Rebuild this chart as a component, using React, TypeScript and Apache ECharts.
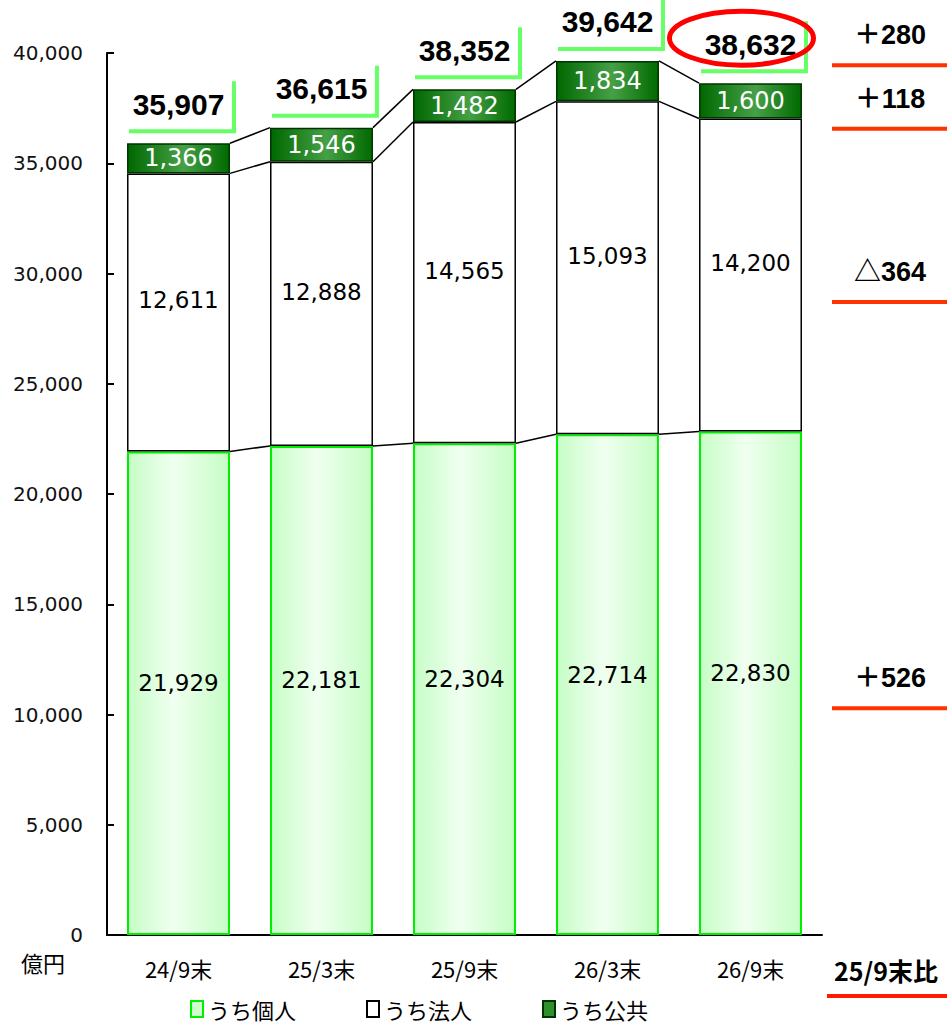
import React, { useEffect, useRef } from "react";
import * as echarts from "echarts";

const categories = ["24/9末", "25/3末", "25/9末", "26/3末", "26/9末"];
const kojin = [21929, 22181, 22304, 22714, 22830];
const hojin = [12611, 12888, 14565, 15093, 14200];
const kokyo = [1366, 1546, 1482, 1834, 1600];
const totals = [35907, 36615, 38352, 39642, 38632];
const seriesNames = ["うち個人", "うち法人", "うち公共"];
const diffLabels = ["＋280", "＋118", "△364", "＋526"];
const compareLabel = "25/9末比";
const unitLabel = "億円";

const BAR_RATIO = 0.72;
const fmt = (v: number) => v.toLocaleString("en-US");

export default function App() {
  const ref = useRef<HTMLDivElement>(null);
  useEffect(() => {
    if (!ref.current) return;
    const chart = echarts.init(ref.current, null, { renderer: "svg" });

    const cum1 = kojin;
    const cum2 = kojin.map((v, i) => v + hojin[i]);
    const cum3 = cum2.map((v, i) => v + kokyo[i]);
    const connData = categories.slice(0, -1).map((_, i) => [
      i, cum1[i], cum1[i + 1], cum2[i], cum2[i + 1], cum3[i], cum3[i + 1],
    ]);

    const option: any = {
      animation: false,
      backgroundColor: "#ffffff",
      grid: { left: 107, right: 125, top: 53, bottom: 90 },
      legend: {
        left: 190,
        top: 998,
        itemWidth: 12,
        itemHeight: 16,
        itemGap: 70,
        icon: "rect",
        textStyle: { fontFamily: "Noto Sans CJK JP", fontSize: 22, lineHeight: 22, color: "#000" },
        padding: 0,
        data: [
          { name: seriesNames[0], itemStyle: { color: "#ccffcc", borderColor: "#00ee00", borderWidth: 2 } },
          { name: seriesNames[1], itemStyle: { color: "#ffffff", borderColor: "#000", borderWidth: 2 } },
          { name: seriesNames[2], itemStyle: { color: "#2f8f2f", borderColor: "#003300", borderWidth: 2 } },
        ],
      },
      xAxis: {
        type: "category",
        data: categories,
        axisLine: { lineStyle: { color: "#000", width: 2 } },
        axisTick: { inside: true, length: 7, lineStyle: { color: "#000", width: 2 } },
        axisLabel: { fontFamily: "Noto Sans CJK JP", fontSize: 22, color: "#000", margin: 22 },
      },
      yAxis: {
        type: "value",
        min: 0,
        max: 40000,
        interval: 5000,
        splitLine: { show: false },
        axisLine: { show: true, lineStyle: { color: "#000", width: 2 } },
        axisTick: { show: true, inside: true, length: 7, lineStyle: { color: "#000", width: 2 } },
        axisLabel: {
          fontFamily: "DejaVu Sans",
          fontSize: 20,
          color: "#111",
          margin: 24,
          formatter: (v: number) => fmt(v),
        },
      },
      series: [
        {
          name: seriesNames[0],
          type: "bar",
          stack: "t",
          barWidth: BAR_RATIO * 100 + "%",
          data: kojin,
          itemStyle: {
            color: new echarts.graphic.LinearGradient(0, 0, 1, 0, [
              { offset: 0, color: "#c6fdc6" },
              { offset: 0.45, color: "#f0fff0" },
              { offset: 1, color: "#c6fdc6" },
            ]),
            borderColor: "#00ee00",
            borderWidth: 2,
          },
          label: {
            show: true,
            position: "inside",
            offset: [0, -10],
            formatter: (p: any) => fmt(p.value),
            fontFamily: "DejaVu Sans",
            fontSize: 23,
            color: "#000",
          },
        },
        {
          name: seriesNames[1],
          type: "bar",
          stack: "t",
          data: hojin,
          itemStyle: { color: "#ffffff", borderColor: "#000", borderWidth: 1.5 },
          label: {
            show: true,
            position: "inside",
            offset: [0, -12],
            formatter: (p: any) => fmt(p.value),
            fontFamily: "DejaVu Sans",
            fontSize: 23,
            color: "#000",
          },
        },
        {
          name: seriesNames[2],
          type: "bar",
          stack: "t",
          data: kokyo,
          itemStyle: {
            color: new echarts.graphic.LinearGradient(0, 0, 1, 0, [
              { offset: 0, color: "#006800" },
              { offset: 0.55, color: "#46a046" },
              { offset: 1, color: "#006a00" },
            ]),
            borderColor: "#003300",
            borderWidth: 1.5,
          },
          label: {
            show: true,
            position: "inside",
            formatter: (p: any) => fmt(p.value),
            fontFamily: "DejaVu Sans",
            fontSize: 24,
            color: "#fff",
          },
        },
        {
          type: "custom",
          name: "connectors",
          data: connData,
          encode: { x: 0, y: 1 },
          z: 5,
          silent: true,
          renderItem: (params: any, api: any) => {
            const i = api.value(0);
            const bw = api.size([1, 0])[0] * BAR_RATIO;
            const children: any[] = [];
            for (let k = 0; k < 3; k++) {
              const a = api.coord([i, api.value(1 + k * 2)]);
              const b = api.coord([i + 1, api.value(2 + k * 2)]);
              children.push({
                type: "line",
                shape: { x1: a[0] + bw / 2, y1: a[1], x2: b[0] - bw / 2, y2: b[1] },
                style: { stroke: "#000", lineWidth: 1.5 },
              });
            }
            return { type: "group", children };
          },
        },
        {
          type: "custom",
          name: "totals",
          data: totals.map((t, i) => [i, t]),
          encode: { x: 0, y: 1 },
          z: 6,
          silent: true,
          renderItem: (params: any, api: any) => {
            const i = api.value(0);
            const t = api.value(1);
            const p = api.coord([i, t]);
            const bw = api.size([1, 0])[0] * BAR_RATIO;
            const by = p[1] - 12;
            return {
              type: "group",
              children: [
                {
                  type: "polyline",
                  shape: {
                    points: [
                      [p[0] - bw / 2 + 2, by],
                      [p[0] + bw / 2 + 4, by],
                      [p[0] + bw / 2 + 4, by - 50],
                    ],
                  },
                  style: { stroke: "#66ff66", lineWidth: 4, fill: null },
                },
                {
                  type: "text",
                  x: p[0],
                  y: by - 27,
                  style: {
                    text: fmt(t),
                    align: "center",
                    verticalAlign: "middle",
                    fill: "#000",
                    fontFamily: "Liberation Sans",
                    fontWeight: "bold",
                    fontSize: 30,
                  },
                },
              ],
            };
          },
        },
      ],
    };
    chart.setOption(option);

    const last = categories.length - 1;
    const py = (v: number) => chart.convertToPixel({ gridIndex: 0 }, [last, v])[1];
    const ptot = chart.convertToPixel({ gridIndex: 0 }, [last, totals[last]]);
    const anchors = [
      py(totals[last]) - 48,
      py(cum2[last] + kokyo[last] / 2) - 2,
      py(cum1[last] + hojin[last] / 2) - 3,
      py(kojin[last] / 2) - 5,
    ];
    const rx = 890;
    const g: any[] = [];
    diffLabels.forEach((lab, k) => {
      g.push({
        type: "text",
        x: rx,
        y: anchors[k],
        style: {
          text: lab,
          align: "center",
          verticalAlign: "middle",
          fill: "#000",
          fontFamily: "Liberation Sans, Noto Sans CJK JP",
          fontWeight: "bold",
          fontSize: 27,
        },
      });
      g.push({
        type: "line",
        shape: { x1: 832, y1: anchors[k] + 30, x2: 947, y2: anchors[k] + 30 },
        style: { stroke: "#ff3300", lineWidth: 4 },
      });
    });
    const axisY = py(0);
    g.push({
      type: "text",
      x: 886,
      y: axisY + 35,
      style: {
        text: compareLabel,
        align: "center",
        verticalAlign: "middle",
        fill: "#000",
        fontFamily: "Noto Sans CJK JP",
        fontWeight: "bold",
        fontSize: 25,
      },
    });
    g.push({
      type: "line",
      shape: { x1: 827, y1: axisY + 61, x2: 947, y2: axisY + 61 },
      style: { stroke: "#ff1a00", lineWidth: 4 },
    });
    g.push({
      type: "text",
      x: 43,
      y: axisY + 27,
      style: {
        text: unitLabel,
        align: "center",
        verticalAlign: "middle",
        fill: "#000",
        fontFamily: "Noto Sans CJK JP",
        fontSize: 22,
      },
    });
    g.push({
      type: "ellipse",
      shape: { cx: ptot[0] - 9, cy: ptot[1] - 45, rx: 72, ry: 27 },
      style: { stroke: "#ff0000", lineWidth: 5, fill: null },
      z: 10,
    });
    chart.setOption({ graphic: g });

    return () => chart.dispose();
  }, []);
  return (
    <div
      ref={ref}
      style={{ position: "fixed", left: 0, top: 0, width: 947, height: 1025, background: "#fff" }}
    />
  );
}
